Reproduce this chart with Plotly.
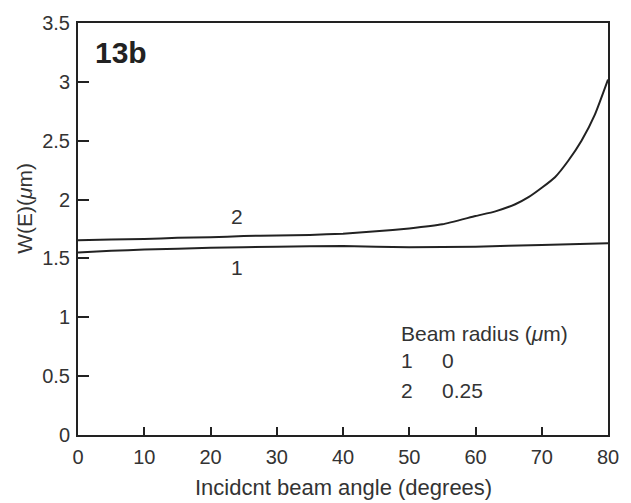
import plotly.graph_objects as go

# Incident beam angle (degrees) and W(E) (um) for the two beam radii
angle_r0 = [0, 5, 10, 20, 30, 40, 50, 60, 70, 80]
width_r0 = [1.55, 1.565, 1.575, 1.59, 1.60, 1.605, 1.595, 1.60, 1.615, 1.63]

angle_r025 = [0, 5, 10, 15, 20, 25, 30, 35, 40, 45, 50, 55, 60, 63, 66, 68, 70, 72, 74, 76, 78, 80]
width_r025 = [1.655, 1.66, 1.665, 1.675, 1.68, 1.69, 1.695, 1.70, 1.71, 1.73, 1.755, 1.79,
              1.86, 1.90, 1.96, 2.02, 2.10, 2.19, 2.33, 2.50, 2.72, 3.02]

x_ticks = [0, 10, 20, 30, 40, 50, 60, 70, 80]
y_ticks = [0, 0.5, 1, 1.5, 2, 2.5, 3, 3.5]
y_tick_text = ["0", "0.5", "1", "1.5", "2", "2.5", "3", "3.5"]

FONT = "Liberation Sans"
INK = "#222222"
TEXT = "#333333"

fig = go.Figure()
for xs, ys in ((angle_r0, width_r0), (angle_r025, width_r025)):
    fig.add_trace(go.Scatter(x=xs, y=ys, mode="lines",
                             line=dict(color=INK, width=2, shape="spline", smoothing=0.5)))

axis_common = dict(
    showgrid=False, zeroline=False, showline=True, linecolor=INK, linewidth=2,
    mirror=True, ticks="inside", tickcolor=INK, tickwidth=1.5,
    tickfont=dict(family=FONT, size=20, color=TEXT),
)

fig.update_xaxes(range=[0, 80], tickvals=x_ticks, ticklen=8, ticklabelstandoff=3, **axis_common)
fig.update_yaxes(range=[0, 3.5], tickvals=y_ticks, ticktext=y_tick_text, ticklen=11, ticklabelstandoff=2, **axis_common)

plot_h = 435 - 17


def label(x, y, text, anchor="center", size=21):
    return dict(x=x, y=y, text=text, xanchor=anchor, yanchor="middle", showarrow=False,
                font=dict(family=FONT, size=size, color=TEXT))


annotations = [
    dict(x=2.2, y=3.25, text="<b>13b</b>", xanchor="left", yanchor="middle", showarrow=False,
         font=dict(family=FONT, size=30, color=INK)),
    label(24, 1.86, "2"),
    label(24, 1.42, "1"),
    label(48.4, 0.864, "Beam radius (<i>μ</i>m)", "left"),
    label(48.4, 0.63, "1", "left"),
    label(54.6, 0.63, "0", "left"),
    label(48.4, 0.378, "2", "left"),
    label(54.6, 0.378, "0.25", "left"),
    dict(x=0.5, xref="paper", y=-(488 - 435) / plot_h, yref="paper", xanchor="center", yanchor="middle",
         text="Incidcnt beam angle (degrees)", showarrow=False,
         font=dict(family=FONT, size=22, color=TEXT)),
    dict(x=-(78 - 24) / (613 - 78), xref="paper", y=(435 - 205) / plot_h, yref="paper",
         xanchor="center", yanchor="middle", text="W(E)(<i>μ</i>m)", textangle=-90,
         showarrow=False, font=dict(family=FONT, size=21, color=TEXT)),
]

fig.update_layout(
    width=631, height=503,
    margin=dict(l=78, r=18, t=17, b=68),
    paper_bgcolor="white", plot_bgcolor="white",
    showlegend=False,
    annotations=annotations,
)

fig.write_html("out.html")
